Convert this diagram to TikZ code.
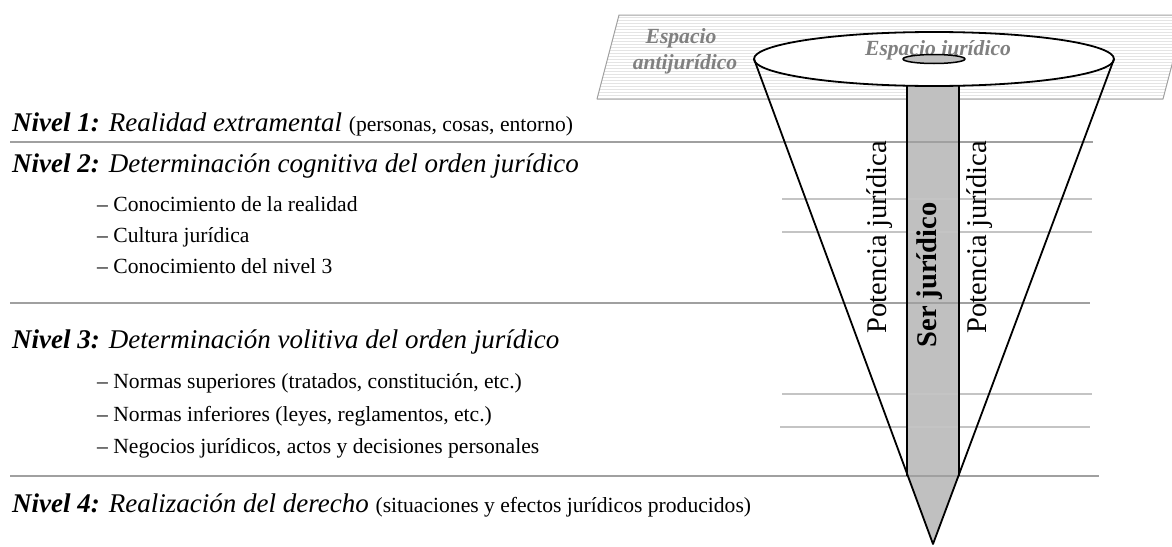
\documentclass[tikz,border=0pt]{standalone}
\usepackage{fontspec}
\setmainfont{Liberation Serif}
\usetikzlibrary{positioning}

\definecolor{barra}{HTML}{C0C0C0}
\definecolor{rayado}{HTML}{E4E4E4}
\definecolor{rotulo}{HTML}{808080}
\definecolor{linea}{HTML}{A0A0A0}
\definecolor{lineaclara}{HTML}{C4C4C4}

\newcommand{\chico}{\fontsize{21.6}{26}\selectfont}

\tikzset{
  nivel/.style={anchor=base west, inner sep=0pt, font=\fontsize{27}{32}\selectfont\itshape},
  item/.style={anchor=base west, inner sep=0pt, font=\chico},
  espacio/.style={anchor=base, inner sep=0pt, text=rotulo, font=\chico\bfseries\itshape},
  potencia/.style={rotate=90, inner sep=0pt, font=\fontsize{28.5}{32}\selectfont},
  sepline/.style={linea, line width=1.6pt},
  shortline/.style={lineaclara, line width=1.2pt},
  borde/.style={black, line width=1.8pt},
}

\begin{document}
\begin{tikzpicture}[x=1pt, y=-1pt, line join=round]
  \clip (0,0) rectangle (1172,546);

  % plano del espacio antijuridico
  \begin{scope}
    \clip (597,99) -- (619,15) -- (1185,15) -- (1163,99) -- cycle;
    \foreach \yy in {17,20,...,98}
      \draw[rayado, line width=0.9pt] (590,\yy) -- (1190,\yy);
  \end{scope}
  \draw[linea, line width=1pt] (597,99) -- (619,15) -- (1185,15) -- (1163,99) -- cycle;

  \coordinate (rim) at (934,59);
  \coordinate (rimL) at (754,59);
  \coordinate (rimR) at (1114,59);
  \coordinate (apex) at (933,544);
  \coordinate (barTL) at (907,86);
  \coordinate (barTR) at (959,86);
  \coordinate (barBL) at (907,476);
  \coordinate (barBR) at (959,476);

  % ser juridico
  \fill[barra] (907,70) rectangle (barBR);
  \fill[barra] (barBL) -- (apex) -- (barBR) -- cycle;

  \draw[borde, fill=white] (rim) ellipse [x radius=180pt, y radius=27pt];

  \node[espacio] (espAnti1) at (681,43) {Espacio};
  \node[espacio] (espAnti2) at (685,69) {antijurídico};
  \node[espacio] (espJur) at (938,55) {Espacio jurídico};

  \fill[barra, draw=black, line width=1.5pt] (rim) ellipse [x radius=31pt, y radius=4.5pt];

  % niveles
  \draw[sepline] (10,142) -- (1093,142);
  \draw[shortline] (782,199) -- (1092,199);
  \draw[shortline] (782,232) -- (1092,232);
  \draw[sepline] (10,303) -- (1090,303);
  \draw[shortline] (782,394) -- (1092,394);
  \draw[shortline] (780,427) -- (1090,427);
  \draw[sepline] (10,476) -- (1099,476);

  \draw[borde] (rimL) -- (apex) -- (rimR);
  \draw[borde] (barTL) -- (barBL);
  \draw[borde] (barTR) -- (barBR);

  \node[potencia] (potIzq) at (880,237) {Potencia jurídica};
  \node[potencia, font=\fontsize{28.5}{32}\selectfont\bfseries] (ser) at (930,275) {Ser jurídico};
  \node[potencia] (potDer) at (980,237) {Potencia jurídica};

  \node[nivel] (n1) at (12,131) {\textbf{Nivel 1:} Realidad extramental {\upshape\chico (personas, cosas, entorno)}};
  \node[nivel] (n2) at (12,172) {\textbf{Nivel 2:} Determinación cognitiva del orden jurídico};
  \node[item] (n2a) at (97,211) {– Conocimiento de la realidad};
  \node[item] (n2b) at (97,242) {– Cultura jurídica};
  \node[item] (n2c) at (97,273) {– Conocimiento del nivel 3};

  \node[nivel] (n3) at (12,348) {\textbf{Nivel 3:} Determinación volitiva del orden jurídico};
  \node[item] (n3a) at (97,388) {– Normas superiores (tratados, constitución, etc.)};
  \node[item] (n3b) at (97,421) {– Normas inferiores (leyes, reglamentos, etc.)};
  \node[item] (n3c) at (97,453) {– Negocios jurídicos, actos y decisiones personales};

  \node[nivel] (n4) at (12,512) {\textbf{Nivel 4:} Realización del derecho {\upshape\chico (situaciones y efectos jurídicos producidos)}};
\end{tikzpicture}
\end{document}
